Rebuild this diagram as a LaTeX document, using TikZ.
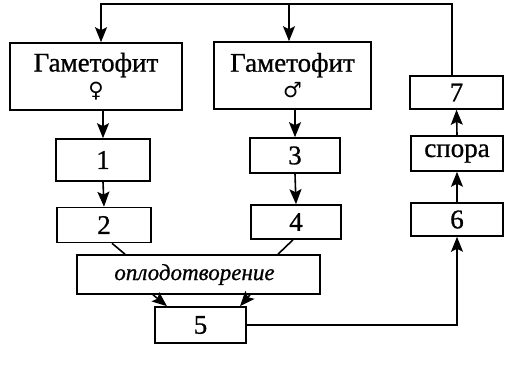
\documentclass[tikz,border=0pt]{standalone}
\usepackage{fontspec}
\setmainfont{Liberation Serif}[FakeBold=0.8]
\newfontfamily\symfont{DejaVu Sans}
\usetikzlibrary{arrows.meta}
\begin{document}
\begin{tikzpicture}[x=1pt,y=-1pt,
  box/.style={draw,line width=1.6pt,inner sep=0pt,align=center,font=\fontsize{27}{29}\selectfont},
  arr/.style={line width=1.6pt,-{Stealth[length=15pt,width=12pt,inset=3pt]}},
  ln/.style={line width=1.6pt}]
\useasboundingbox[fill=white] (0,0) rectangle (532,371);
\node[box,minimum width=172pt,minimum height=67pt] (fem) at (96,76.5) {Гаметофит\\[-3pt]{\symfont\fontsize{21}{22}\selectfont ♀}};
\node[box,minimum width=157pt,minimum height=67pt] (male) at (292.5,75.5) {Гаметофит\\[-3pt]{\symfont\fontsize{21}{22}\selectfont ♂}};
\node[box,minimum width=93pt,minimum height=33pt] (seven) at (456.5,92.5) {7};
\node[box,minimum width=94pt,minimum height=42pt] (one) at (103,160) {1};
\node[box,minimum width=94pt,minimum height=35pt] (two) at (104,225) {2};
\node[box,minimum width=90pt,minimum height=35pt] (three) at (295,155.5) {3};
\node[box,minimum width=90pt,minimum height=34pt] (four) at (296,222) {4};
\node[box,minimum width=92pt,minimum height=35pt] (spora) at (457,153.5) {спора};
\node[box,minimum width=92pt,minimum height=33pt] (six) at (457,219.5) {6};
\node[box,minimum width=243pt,minimum height=39pt,font=\fontsize{23}{25}\selectfont\itshape] (fert) at (198.5,274.5) {\hspace*{-8pt}оплодотворение};
\node[box,minimum width=91pt,minimum height=36pt] (five) at (200.5,325) {5};
\coordinate (topL) at (101,4);
\coordinate (topM) at (289,4);
\coordinate (topR) at (452,4);
\draw[arr] (seven.north -| topR) -- (topR) -- (topL) -- (fem.north -| topL);
\draw[arr] (topM) -- (male.north -| topM);
\draw[arr] (fem.south -| one.north) -- (one.north);
\draw[arr] (one.south) -- (two.north);
\draw[arr] (male.south -| three.north) -- (three.north);
\draw[arr] (three.south) -- (four.north);
\draw[arr] (six.north) -- (spora.south);
\draw[arr] (spora.north) -- (seven.south);
\draw[ln] ([xshift=8pt]two.south) -- ([xshift=-73.5pt]fert.north);
\draw[ln] ([xshift=-3pt]four.south) -- ([xshift=79.5pt]fert.north);
\draw[arr] ([xshift=-45.5pt]fert.south) -- ([xshift=-33.5pt]five.north);
\draw[arr] ([xshift=51.5pt]fert.south) -- ([xshift=39.5pt]five.north);
\draw[arr] (five.east) -| (six.south);
\end{tikzpicture}
\end{document}
